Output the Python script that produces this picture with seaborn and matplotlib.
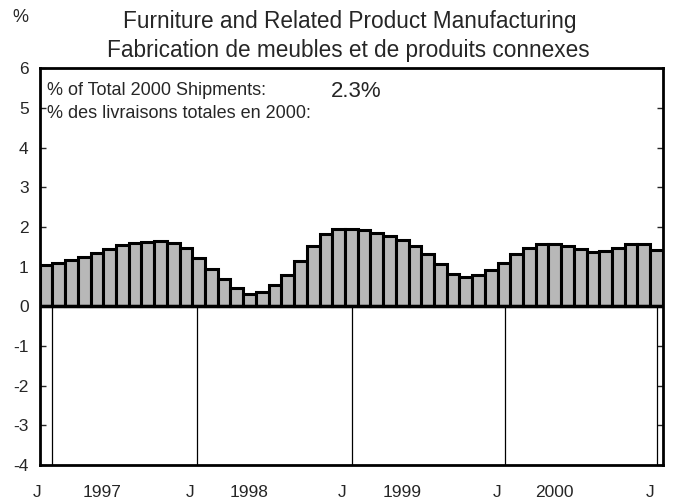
import matplotlib
matplotlib.use('Agg')
import matplotlib.pyplot as plt
import matplotlib.transforms as mtransforms
import seaborn as sns
import pandas as pd

# monthly share of total shipments (%), Dec 1996 .. Dec 2000
months = [f"{y}-{m:02d}" for y, m in [(1996, 12)] + [(yy, mm) for yy in range(1997, 2001) for mm in range(1, 13)]]
share = [1.05, 1.10, 1.17, 1.23, 1.34, 1.45, 1.55, 1.60, 1.62, 1.65, 1.60, 1.47,
         1.22, 0.95, 0.68, 0.45, 0.32, 0.37, 0.53, 0.80, 1.14, 1.53, 1.81, 1.95,
         1.95, 1.91, 1.84, 1.76, 1.68, 1.53, 1.32, 1.07, 0.82, 0.74, 0.78, 0.92,
         1.09, 1.32, 1.47, 1.56, 1.56, 1.51, 1.45, 1.37, 1.39, 1.47, 1.58, 1.58,
         1.43]

jan_lines = [0.5, 11.9, 24.05, 36.1, 48.0]
jan_label_pos = [-0.7, 11.3, 23.3, 35.5, 47.5]
year_labels = ["1997", "1998", "1999", "2000"]
year_label_pos = [4.4, 16.0, 28.0, 40.0]

df = pd.DataFrame({"month": months, "share": share})

sns.set_style("white")
plt.rcParams['font.family'] = ['Liberation Sans', 'DejaVu Sans']
plt.rcParams['axes.unicode_minus'] = False

fig = plt.figure(figsize=(6.73, 5.03), dpi=100)
ax = fig.add_axes([0.059, 0.0755, 0.926, 0.789])

sns.barplot(data=df, x="month", y="share", color="#b8b8b8", width=1.0,
            edgecolor="black", linewidth=2.2, saturation=1, ax=ax)

ax.vlines(jan_lines, -4, 0, color="black", linewidth=0.9)
ax.axhline(0, color="black", linewidth=2.5)

ax.set_xlim(-0.5, 48.5)
ax.set_ylim(-4, 6)
ax.set_yticks(range(-4, 7))
ax.set_xticks([])
ax.set_xlabel("")
ax.set_ylabel("")
ax.tick_params(axis="y", direction="in", length=4, width=1, pad=8,
               labelsize=12.5, right=True, left=True)
for s in ax.spines.values():
    s.set_visible(True)
    s.set_color("black")
    s.set_linewidth(2)

trans = mtransforms.blended_transform_factory(ax.transData, ax.transAxes)
for x in jan_label_pos:
    ax.text(x, -0.069, "J", transform=trans, ha="center", va="center", fontsize=12.5)
for x, lab in zip(year_label_pos, year_labels):
    ax.text(x, -0.069, lab, transform=trans, ha="center", va="center", fontsize=12.5)

ax.text(0.011, 0.932, "% of Total 2000 Shipments:", transform=ax.transAxes,
        ha="left", va="baseline", fontsize=13)
ax.text(0.468, 0.927, "2.3%", transform=ax.transAxes,
        ha="left", va="baseline", fontsize=16)
ax.text(0.011, 0.874, "% des livraisons totales en 2000:", transform=ax.transAxes,
        ha="left", va="baseline", fontsize=13)

fig.text(0.03, 0.966, "%", ha="center", va="center", fontsize=13)
fig.text(0.52, 0.944, "Furniture and Related Product Manufacturing",
         ha="center", va="baseline", fontsize=16.3)
fig.text(0.518, 0.887, "Fabrication de meubles et de produits connexes",
         ha="center", va="baseline", fontsize=16.3)

fig.savefig("out.png", dpi=100)
